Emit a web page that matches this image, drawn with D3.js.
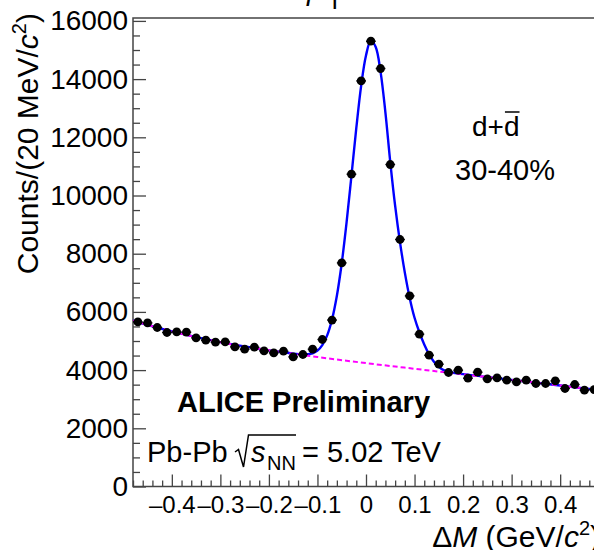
<!DOCTYPE html>
<html>
<head>
<meta charset="utf-8">
<script src="https://cdn.jsdelivr.net/npm/d3@7"></script>
<style>
  html, body { margin: 0; padding: 0; background: #fff; }
  svg { display: block; font-family: "Liberation Sans", Arial, Helvetica, sans-serif; }
</style>
</head>
<body>
<svg id="chart" width="594" height="550"></svg>
<script>
// Invariant-mass difference bins (GeV/c^2) and measured counts per 20 MeV/c^2 bin
const deltaM = [-0.47, -0.45, -0.43, -0.41, -0.39, -0.37, -0.35, -0.33, -0.31, -0.29,
                -0.27, -0.25, -0.23, -0.21, -0.19, -0.17, -0.15, -0.13, -0.11, -0.09,
                -0.07, -0.05, -0.03, -0.01, 0.01, 0.03, 0.05, 0.07, 0.09, 0.11,
                0.13, 0.15, 0.17, 0.19, 0.21, 0.23, 0.25, 0.27, 0.29, 0.31,
                0.33, 0.35, 0.37, 0.39, 0.41, 0.43, 0.45, 0.47];
const counts = [5656, 5622, 5464, 5292, 5313, 5302, 5107, 5027, 4959, 4969,
                4797, 4718, 4787, 4660, 4591, 4649, 4454, 4536, 4718, 5052,
                5720, 7684, 10732, 13938, 15302, 14364, 11065, 8488, 6550, 5234,
                4512, 4203, 3918, 3997, 3722, 3928, 3698, 3732, 3653, 3595,
                3653, 3540, 3540, 3629, 3368, 3505, 3309, 3330];
const binHalfWidth = 0.01;

// Background-only fit curve (magenta dashed)
const bkgM      = [-0.48, -0.40, -0.30, -0.20, -0.10, 0.00, 0.10, 0.20, 0.30, 0.40, 0.48];
const bkgCounts = [5700, 5330, 4960, 4680, 4450, 4240, 4045, 3855, 3665, 3470, 3310];

// Signal + background fit curve (blue)
const fitM = [-0.48, -0.40, -0.30, -0.20, -0.17, -0.15, -0.13, -0.12, -0.11, -0.10,
              -0.09, -0.08, -0.07, -0.06, -0.05, -0.04, -0.03, -0.02, -0.01, 0.00,
              0.01, 0.02, 0.03, 0.04, 0.05, 0.06, 0.07, 0.08, 0.09, 0.10,
              0.11, 0.12, 0.13, 0.14, 0.15, 0.16, 0.17, 0.18, 0.20, 0.30,
              0.40, 0.48];
const fitCounts = [5700, 5330, 4960, 4680, 4614, 4568, 4539, 4544, 4579, 4669,
                   4858, 5193, 5740, 6555, 7672, 9075, 10677, 12313, 13769, 14813,
                   15330, 15100, 14250, 12850, 11150, 9650, 8400, 7350, 6480, 5800,
                   5300, 4880, 4540, 4290, 4110, 4000, 3950, 3910, 3860, 3665,
                   3470, 3310];

// Axis ticks and labels
const xMajorTicks = [-0.4, -0.3, -0.2, -0.1, 0, 0.1, 0.2, 0.3, 0.4];
const xTickLabels = ["\u20130.4", "\u20130.3", "\u20130.2", "\u20130.1", "0", "0.1", "0.2", "0.3", "0.4"];
const yMajorTicks = [0, 2000, 4000, 6000, 8000, 10000, 12000, 14000, 16000];
const yTickLabels = ["0", "2000", "4000", "6000", "8000", "10000", "12000", "14000", "16000"];

(function draw() {
  const svg = d3.select("#chart");
  const plotLeft = 133, plotRight = 599, plotTop = 18, plotBottom = 486.5;

  const x = d3.scaleLinear().domain([-0.48, 0.48]).range([plotLeft, plotRight]);
  const y = d3.scaleLinear().domain([0, 16100]).range([plotBottom, plotTop]);

  const axisColor = "#444";
  const fontFamily = "Liberation Sans, Arial, sans-serif";

  // clip region for the plotted curves
  svg.append("defs").append("clipPath").attr("id", "plotArea")
    .append("rect").attr("x", plotLeft).attr("y", plotTop)
    .attr("width", plotRight - plotLeft).attr("height", plotBottom - plotTop);

  // --- y axis ---
  const yMinor = d3.range(500, 16001, 500).filter(v => v % 2000 !== 0);
  svg.append("g").attr("transform", `translate(${plotLeft},0)`)
    .call(d3.axisLeft(y).tickValues(yMinor).tickSize(-7).tickFormat(""))
    .call(g => g.select(".domain").remove())
    .call(g => g.selectAll("line").attr("stroke", axisColor).attr("stroke-width", 1.3));

  svg.append("g").attr("transform", `translate(${plotLeft},0)`)
    .call(d3.axisLeft(y).tickValues(yMajorTicks).tickSize(-13).tickPadding(5)
          .tickFormat((d, i) => yTickLabels[i]))
    .call(g => g.select(".domain").remove())
    .call(g => g.selectAll("line").attr("stroke", axisColor).attr("stroke-width", 1.3))
    .call(g => g.selectAll("text").attr("font-size", 28).attr("fill", "#000")
          .attr("font-family", fontFamily));

  // --- x axis ---
  const xMinor = d3.range(-24, 25).filter(k => k % 5 !== 0).map(k => k * 0.02);
  svg.append("g").attr("transform", `translate(0,${plotBottom})`)
    .call(d3.axisBottom(x).tickValues(xMinor).tickSize(-6).tickFormat(""))
    .call(g => g.select(".domain").remove())
    .call(g => g.selectAll("line").attr("stroke", axisColor).attr("stroke-width", 1.3));

  svg.append("g").attr("transform", `translate(0,${plotBottom})`)
    .call(d3.axisBottom(x).tickValues(xMajorTicks).tickSize(-12).tickPadding(9)
          .tickFormat((d, i) => xTickLabels[i]))
    .call(g => g.select(".domain").remove())
    .call(g => g.selectAll("line").attr("stroke", axisColor).attr("stroke-width", 1.3))
    .call(g => g.selectAll("text").attr("font-size", 24).attr("fill", "#000")
          .attr("font-family", fontFamily));

  // frame
  svg.append("path")
    .attr("d", `M${plotLeft},${plotBottom}V${plotTop}H${plotRight}V${plotBottom}Z`)
    .attr("fill", "none").attr("stroke", axisColor).attr("stroke-width", 1.5);

  // --- curves ---
  const lineGen = d3.line()
    .x(d => x(d[0])).y(d => y(d[1]))
    .curve(d3.curveCatmullRom.alpha(0.5));

  const plot = svg.append("g").attr("clip-path", "url(#plotArea)");

  plot.append("path")
    .datum(fitM.map((m, i) => [m, fitCounts[i]]))
    .attr("d", lineGen)
    .attr("fill", "none").attr("stroke", "#0000ff").attr("stroke-width", 2.4);

  plot.append("path")
    .datum(bkgM.map((m, i) => [m, bkgCounts[i]]))
    .attr("d", lineGen)
    .attr("fill", "none").attr("stroke", "#ff00ff").attr("stroke-width", 2)
    .attr("stroke-dasharray", "5,3");

  // --- data points with bin-width error bars ---
  const pts = svg.append("g");
  const data = deltaM.map((m, i) => ({ m, c: counts[i] }));
  pts.selectAll("line.err").data(data).join("line")
    .attr("class", "err")
    .attr("x1", d => x(d.m - binHalfWidth)).attr("x2", d => x(d.m + binHalfWidth))
    .attr("y1", d => y(d.c)).attr("y2", d => y(d.c))
    .attr("stroke", "#000").attr("stroke-width", 1.4);
  pts.selectAll("circle").data(data).join("circle")
    .attr("cx", d => x(d.m)).attr("cy", d => y(d.c)).attr("r", 4.4)
    .attr("fill", "#000");

  // --- axis titles ---
  const yTitle = svg.append("text")
    .attr("transform", "translate(37.5,13) rotate(-90)")
    .attr("text-anchor", "end").attr("font-size", 30).attr("fill", "#000");
  yTitle.append("tspan").text("Counts/(20 MeV/");
  yTitle.append("tspan").attr("font-style", "italic").text("c");
  yTitle.append("tspan").attr("font-size", 20).attr("dy", -12).text("2");
  yTitle.append("tspan").attr("dy", 12).text(")");

  const xTitle = svg.append("text")
    .attr("x", 600).attr("y", 547)
    .attr("text-anchor", "end").attr("font-size", 30).attr("fill", "#000");
  xTitle.append("tspan").text("\u0394");
  xTitle.append("tspan").attr("font-style", "italic").text("M");
  xTitle.append("tspan").text(" (GeV/");
  xTitle.append("tspan").attr("font-style", "italic").text("c");
  xTitle.append("tspan").attr("font-size", 20).attr("dy", -12).text("2");
  xTitle.append("tspan").attr("dy", 12).text(")");

  // --- title (extends above the canvas) ---
  svg.append("text").attr("x", 307).attr("y", 0).attr("font-size", 29)
    .attr("font-style", "italic").attr("fill", "#000").text("p");
  svg.append("text").attr("x", 331).attr("y", 3).attr("font-size", 29)
    .attr("fill", "#000").text("|");

  // --- annotations ---
  svg.append("text").attr("x", 177).attr("y", 412)
    .attr("font-size", 29).attr("font-weight", "bold").attr("fill", "#000")
    .text("ALICE Preliminary");

  svg.append("text").attr("x", 147).attr("y", 462)
    .attr("font-size", 29).attr("fill", "#000").text("Pb-Pb");
  svg.append("path").attr("d", "M235,452 L238.5,449.5 L243.5,467 L248.5,435 L296,435")
    .attr("fill", "none").attr("stroke", "#000").attr("stroke-width", 1.5);
  svg.append("text").attr("x", 251).attr("y", 462)
    .attr("font-size", 29).attr("font-style", "italic").attr("fill", "#000").text("s");
  svg.append("text").attr("x", 267).attr("y", 470)
    .attr("font-size", 20).attr("fill", "#000").text("NN");
  svg.append("text").attr("x", 302).attr("y", 462)
    .attr("font-size", 29).attr("fill", "#000").text("= 5.02 TeV");

  const particle = svg.append("text").attr("x", 472).attr("y", 136)
    .attr("font-size", 28).attr("fill", "#000");
  particle.append("tspan").text("d+");
  particle.append("tspan").text("d");
  const pNode = particle.node();
  const barStart = pNode.getStartPositionOfChar(2).x;
  const barEnd = pNode.getEndPositionOfChar(2).x;
  svg.append("line").attr("x1", barStart + 1).attr("x2", barEnd).attr("y1", 112).attr("y2", 112)
    .attr("stroke", "#000").attr("stroke-width", 1.5);

  svg.append("text").attr("x", 455).attr("y", 180)
    .attr("font-size", 29).attr("fill", "#000").text("30-40%");
})();
</script>
</body>
</html>
